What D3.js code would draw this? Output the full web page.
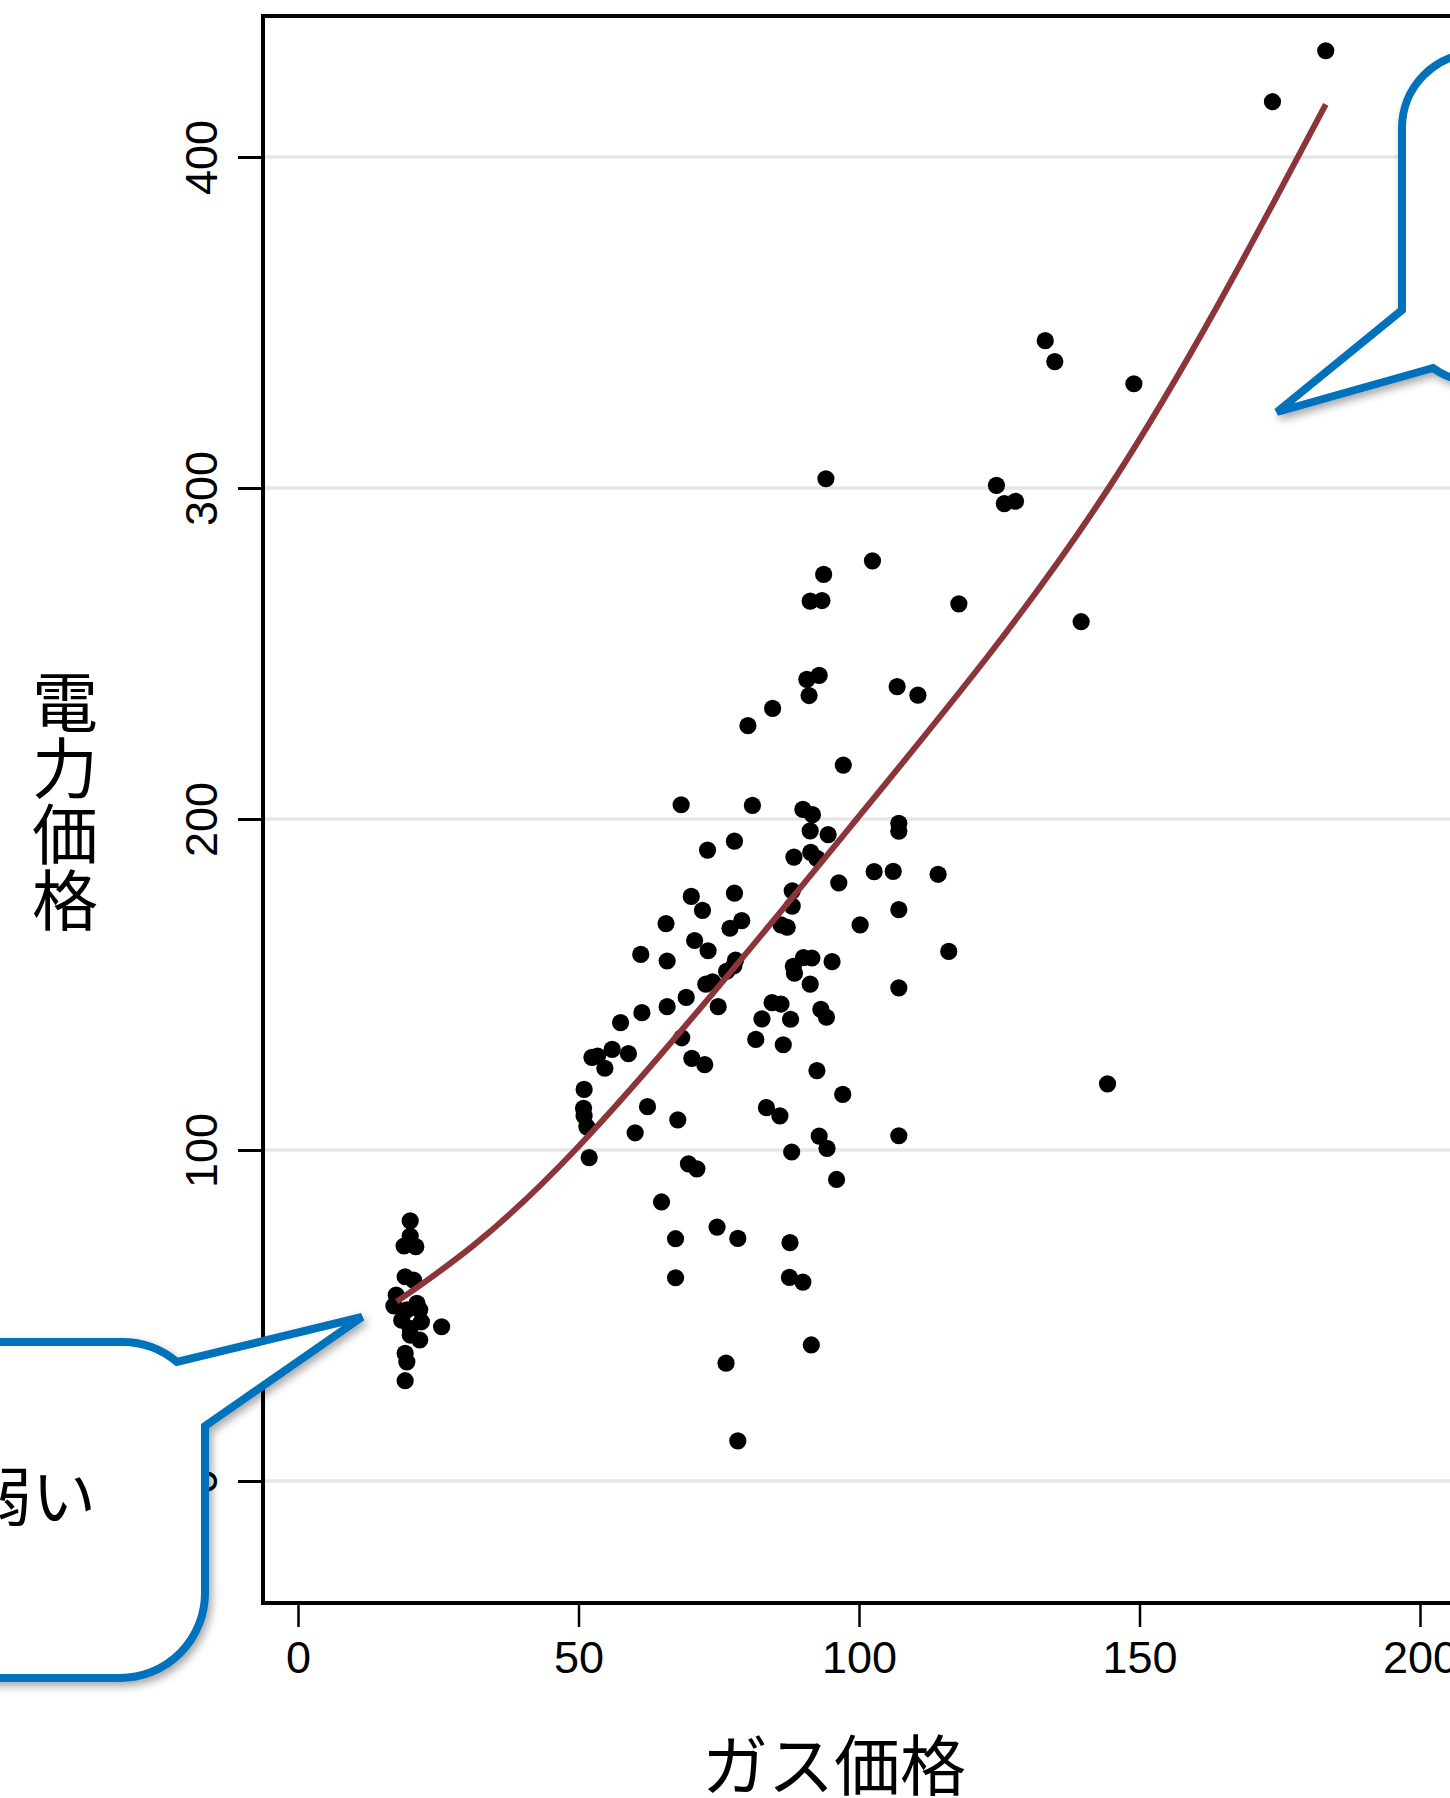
<!DOCTYPE html>
<html lang="ja">
<head>
<meta charset="UTF-8">
<title>ガス価格と電力価格</title>
<style>
  body { margin: 0; background: #fff; }
  .tick text { font-family: "Liberation Sans", Arial, Helvetica, sans-serif; font-size: 45px; fill: #000; }
  .jp { font-family: "Noto Sans CJK JP", "Noto Sans", sans-serif; fill: #000; }
</style>
<script src="https://d3js.org/d3.v7.min.js"></script>
</head>
<body>
<script>
// gas price (x) and power price (y)
const gasPrice = [
  94.1, 102.4, 93.7, 91.3, 93.4, 117.8, 90.7, 92.9, 91.1, 106.8, 110.5, 84.6, 80.2, 97.2, 68.3, 81.0,
  90.0, 91.7, 107.1, 107.1, 91.3, 94.5, 77.8, 73.0, 88.4, 91.4, 92.5, 102.7, 106.1, 114.1, 96.4, 88.1,
  88.1, 70.1, 72.1, 77.8, 65.6, 79.1, 77.0, 86.1, 87.2, 100.2, 107.1, 70.7, 73.1, 61.1, 65.8, 78.0,
  76.4, 77.7, 72.7, 73.9, 90.1, 91.6, 88.3, 88.5, 95.2, 91.3, 116.0, 107.1,
  69.2, 65.8, 61.3, 57.5, 74.9, 84.5, 86.1, 93.2, 94.2, 82.7, 87.8, 68.4, 81.6, 86.5, 52.4, 53.4,
  56.0, 58.9, 54.7, 70.2, 72.5, 92.5, 97.1, 51.0, 50.9, 51.0, 51.5, 62.3, 67.7, 60.1, 83.5, 85.9,
  92.9, 94.3, 88.0, 107.1, 51.9, 69.6, 71.1, 96.0, 64.8, 74.7, 78.4, 67.3, 87.7, 67.3, 87.6, 90.0,
  91.5, 76.3, 78.4,
  183.2, 173.7, 133.2, 134.9, 149.0, 124.5, 125.9, 127.9, 139.6, 144.3,
  20.0, 20.0, 18.9, 21.0, 19.1, 20.6, 17.5, 17.1, 21.2, 19.4, 21.7, 18.5, 22.0, 20.0, 21.7, 20.0,
  19.1, 19.4, 19.1, 25.6
];
const powerPrice = [
  302.8, 278.0, 273.9, 265.8, 266.0, 265.0, 242.2, 243.4, 237.3, 240.0, 237.4, 233.4, 228.2, 216.3, 204.3, 204.1,
  202.9, 201.3, 198.7, 196.3, 196.4, 195.3, 193.3, 190.6, 188.5, 189.9, 188.1, 184.1, 184.2, 183.3, 180.7, 178.3,
  173.7, 176.6, 172.4, 177.6, 168.4, 169.3, 167.0, 168.0, 167.3, 168.0, 172.6, 163.3, 160.2, 159.1, 157.1, 157.4,
  154.0, 155.7, 150.1, 150.8, 158.1, 158.0, 155.5, 153.4, 156.9, 150.1, 160.0, 149.0,
  146.1, 143.3, 141.5, 138.5, 143.3, 144.5, 144.1, 142.5, 140.1, 139.6, 139.5, 133.9, 133.4, 131.8, 128.0, 128.4,
  130.4, 129.1, 124.7, 127.7, 125.8, 124.0, 116.8, 118.3, 112.6, 110.3, 107.0, 113.1, 109.1, 105.2, 112.8, 110.3,
  104.2, 100.5, 99.4, 104.3, 97.7, 95.8, 94.3, 91.1, 84.3, 76.7, 73.3, 73.2, 72.0, 61.4, 61.5, 60.1,
  41.1, 35.6, 12.1,
  432.1, 416.7, 344.5, 338.2, 331.5, 300.8, 295.3, 296.0, 259.6, 120.0,
  78.6, 74.0, 71.0, 70.8, 61.7, 60.7, 56.2, 52.9, 53.7, 51.7, 51.7, 48.6, 48.1, 46.1, 42.6, 44.1,
  38.6, 36.0, 30.3, 46.6
];

// fitted curve, read where the red line starts, ends and crosses the grid
const fitX = [17.6, 49.4, 99.6, 144.5, 183.2];
const fitY = [54.2, 100, 200, 300, 415.9];

const xTicks = [0, 50, 100, 150, 200];
const yTicks = [0, 100, 200, 300, 400];

const W = 1450, H = 1798;
const plotLeft = 263, plotTop = 16, plotBottom = 1603, plotRight = 1700;

const svg = d3.select("body").append("svg")
  .attr("width", W).attr("height", H)
  .attr("viewBox", `0 0 ${W} ${H}`);

const x = d3.scaleLinear().domain([0, 200]).range([298, 1420]);
const y = d3.scaleLinear().domain([0, 400]).range([1481, 157]);

const defs = svg.append("defs");
defs.append("filter").attr("id", "shadow")
  .attr("x", "-20%").attr("y", "-20%").attr("width", "140%").attr("height", "140%")
  .append("feDropShadow")
  .attr("dx", 3).attr("dy", 4).attr("stdDeviation", 4)
  .attr("flood-color", "#000").attr("flood-opacity", 0.35);

// grid
svg.append("g").selectAll("line").data(yTicks).join("line")
  .attr("x1", plotLeft).attr("x2", plotRight)
  .attr("y1", d => y(d)).attr("y2", d => y(d))
  .attr("stroke", "#e6e6e6").attr("stroke-width", 3.5);

// axes
const yAxis = svg.append("g").attr("transform", `translate(${plotLeft},0)`)
  .call(d3.axisLeft(y).tickValues(yTicks).tickSize(25).tickPadding(0));
yAxis.select(".domain").remove();
yAxis.selectAll(".tick line").attr("stroke", "#000").attr("stroke-width", 3);
yAxis.selectAll(".tick text")
  .attr("x", null).attr("dy", null)
  .attr("text-anchor", "middle")
  .attr("transform", "translate(-46,0) rotate(-90)");

const xAxis = svg.append("g").attr("transform", `translate(0,${plotBottom})`)
  .call(d3.axisBottom(x).tickValues(xTicks).tickSize(24).tickPadding(0));
xAxis.select(".domain").remove();
xAxis.selectAll(".tick line").attr("stroke", "#000").attr("stroke-width", 2.5);
xAxis.selectAll(".tick text").attr("y", 70).attr("dy", null);

// frame
svg.append("path")
  .attr("d", `M${plotRight},${plotTop}H${plotLeft}V${plotBottom}H${plotRight}`)
  .attr("fill", "none").attr("stroke", "#000").attr("stroke-width", 4);

// points
svg.append("g").selectAll("circle").data(gasPrice).join("circle")
  .attr("cx", d => x(d))
  .attr("cy", (d, i) => y(powerPrice[i]))
  .attr("r", 8.6)
  .attr("fill", "#000");

// fitted curve
svg.append("path")
  .datum(fitX.map((d, i) => [d, fitY[i]]))
  .attr("d", d3.line().x(d => x(d[0])).y(d => y(d[1])).curve(d3.curveNatural))
  .attr("fill", "none").attr("stroke", "#8b353b").attr("stroke-width", 6);

// axis titles
svg.append("text").attr("class", "jp")
  .attr("x", 834).attr("y", 1761)
  .attr("text-anchor", "middle").attr("dominant-baseline", "central")
  .attr("font-size", 66).text("ガス価格");

svg.append("text").attr("class", "jp")
  .attr("x", 65).attr("y", 801)
  .attr("text-anchor", "middle")
  .style("writing-mode", "vertical-rl")
  .attr("font-size", 66).text("電力価格");

// callouts
const blue = "#0072bc";
svg.append("path")
  .attr("d", "M-100,1342 L120,1342 A85,85 0 0 1 177,1362 L362,1317 L205,1426 L205,1593 A85,85 0 0 1 120,1678 L-100,1678 Z")
  .attr("fill", "#fff").attr("stroke", blue).attr("stroke-width", 8)
  .attr("stroke-linejoin", "miter").attr("filter", "url(#shadow)");
svg.append("text").attr("class", "jp")
  .attr("x", 96).attr("y", 1492)
  .attr("text-anchor", "end").attr("dominant-baseline", "central")
  .attr("font-size", 64).text("弱い");

svg.append("path")
  .attr("d", "M1600,53 L1477,53 A75,75 0 0 0 1402,128 L1402,310 L1277,412 L1433,368 A75,75 0 0 0 1477,382 L1600,382 Z")
  .attr("fill", "#fff").attr("stroke", blue).attr("stroke-width", 8)
  .attr("stroke-linejoin", "miter").attr("filter", "url(#shadow)");
</script>
</body>
</html>
